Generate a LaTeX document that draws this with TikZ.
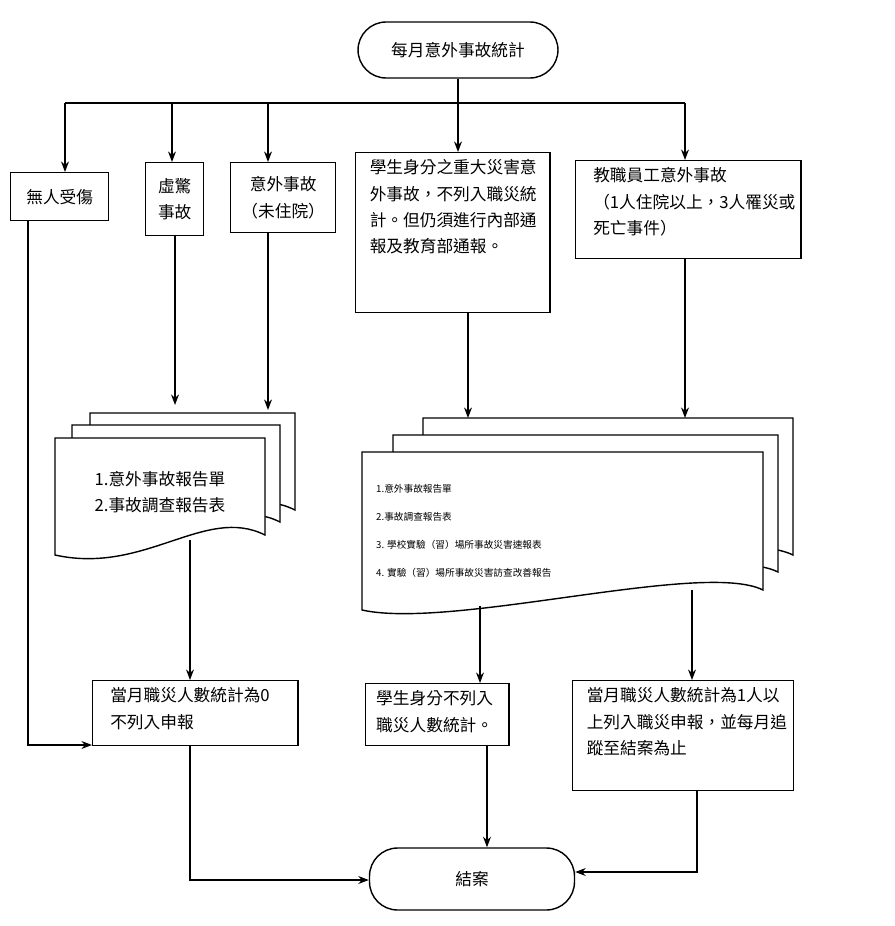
\documentclass[tikz,border=0pt]{standalone}
\usepackage{fontspec}
\setmainfont{Noto Sans CJK TC}
\XeTeXlinebreaklocale "zh"
\XeTeXlinebreakskip=0pt plus 1pt
\usetikzlibrary{arrows.meta}
\tikzset{
  box/.style={draw, thick, anchor=north west, align=left, inner sep=4pt, font=\fontsize{9.5}{15}\selectfont},
  term/.style={draw, thick, rounded corners=16pt, font=\fontsize{9.5}{12}\selectfont},
  arr/.style={thick, -{Stealth[length=6pt]}},
  doc/.style={draw, thick, fill=white}
}
\newcommand{\docpage}[4]{% x1 y1 x2 y2
  \path[doc] (#1,#2) -- (#3,#2) -- (#3,#4-20) .. controls (#3-60,#4-50) and (#1+90,#4+20) .. (#1,#4) -- cycle;}
\newcommand{\toptext}[3]{\parbox[t][#2][t]{#1}{\raggedright #3}}
\begin{document}
\begin{tikzpicture}[x=0.02cm, y=-0.02cm]
  \useasboundingbox (0,0) rectangle (894,926);

  \node[term, minimum width=4cm, minimum height=1.12cm] (start) at (458,50) {每月意外事故統計};
  \node[term, minimum width=4.1cm, minimum height=1.24cm] (end) at (472,879) {結案};

  \node[box, minimum width=1.96cm, minimum height=0.96cm] (none) at (10,172) {無人受傷};
  \node[box, minimum width=1.16cm, minimum height=1.46cm] (near) at (145,162) {虛驚\\事故};
  \node[box, minimum width=2.1cm, minimum height=1.4cm, align=center] (acc) at (230,162) {意外事故\\（未住院）};
  \node[box, inner sep=0pt] (stud) at (355,152) {\hspace{8pt}\toptext{3.5cm}{3.2cm}{\vspace{4pt}學生身分之重大災害意外事故，不列入職災統計。但仍須進行內部通報及教育部通報。}\hspace{3pt}};
  \node[box, inner sep=0pt] (staff) at (575,160) {\hspace{10pt}\toptext{4.05cm}{1.96cm}{\vspace{4pt}教職員工意外事故\\（1人住院以上，3人罹災或死亡事件）}\hspace{3pt}};

  % left document stack
  \docpage{90}{413}{295}{530}
  \docpage{72}{425}{280}{542}
  \docpage{55}{438}{265}{555}
  \node[align=left, font=\fontsize{9.5}{15}\selectfont] (ldoc) at (160,492) {1.意外事故報告單\\2.事故調查報告表};
  \coordinate (ldocA) at (175,405);
  \coordinate (ldocB) at (268,410);
  \coordinate (ldocC) at (190,540);

  % right document stack
  \docpage{423}{418}{793}{575}
  \docpage{393}{435}{778}{592}
  \docpage{362}{452}{763}{610}
  \node[anchor=north west, align=left, font=\fontsize{5.5}{16}\selectfont] (rdoc) at (370,478)
    {1.意外事故報告單\\2.事故調查報告表\\3. 學校實驗（習）場所事故災害速報表\\4. 實驗（習）場所事故災害訪查改善報告};
  \coordinate (rdocA) at (468,418);
  \coordinate (rdocB) at (685,418);
  \coordinate (rdocC) at (480,606);
  \coordinate (rdocD) at (692,590);

  \node[box, inner sep=0pt] (zero) at (92,680) {\hspace{10pt}\toptext{3.65cm}{1.3cm}{\vspace{4pt}當月職災人數統計為0\\不列入申報}\hspace{3pt}};
  \node[box, inner sep=0pt] (nost) at (365,683) {\hspace{6pt}\toptext{2.55cm}{1.24cm}{\vspace{4pt}學生身分不列入職災人數統計。}\hspace{3pt}};
  \node[box, inner sep=0pt] (one) at (572,680) {\hspace{8pt}\toptext{4.1cm}{2.2cm}{\vspace{4pt}當月職災人數統計為1人以上列入職災申報，並每月追蹤至結案為止}\hspace{1pt}};

  % branches
  \draw[thick] (start.south) -- (458,103) coordinate (hub);
  \draw[thick] (65,103) -- (685,103);
  \draw[arr] (65,103) -- (none.north -| 65,0);
  \draw[arr] (172,103) -- (near.north -| 172,0);
  \draw[arr] (268,103) -- (acc.north -| 268,0);
  \draw[arr] (hub) -- (stud.north -| hub);
  \draw[arr] (685,103) -- (staff.north -| 685,0);

  \draw[arr] (near.south -| ldocA) -- (ldocA);
  \draw[arr] (acc.south -| ldocB) -- (ldocB);
  \draw[arr] (stud.south -| rdocA) -- (rdocA);
  \draw[arr] (staff.south -| rdocB) -- (rdocB);

  \draw[arr] (ldocC) -- (zero.north -| ldocC);
  \draw[arr] (28,220) |- (zero.west |- 0,745);
  \draw[arr] (rdocC) -- (nost.north -| rdocC);
  \draw[arr] (rdocD) -- (one.north -| rdocD);

  \draw[arr] (zero.south -| 190,0) |- (end.west |- 0,880);
  \draw[arr] (nost.south -| 487,0) -- (end.north -| 487,0);
  \draw[arr] (one.south -| 697,0) |- (end.east |- 0,872);
\end{tikzpicture}
\end{document}
